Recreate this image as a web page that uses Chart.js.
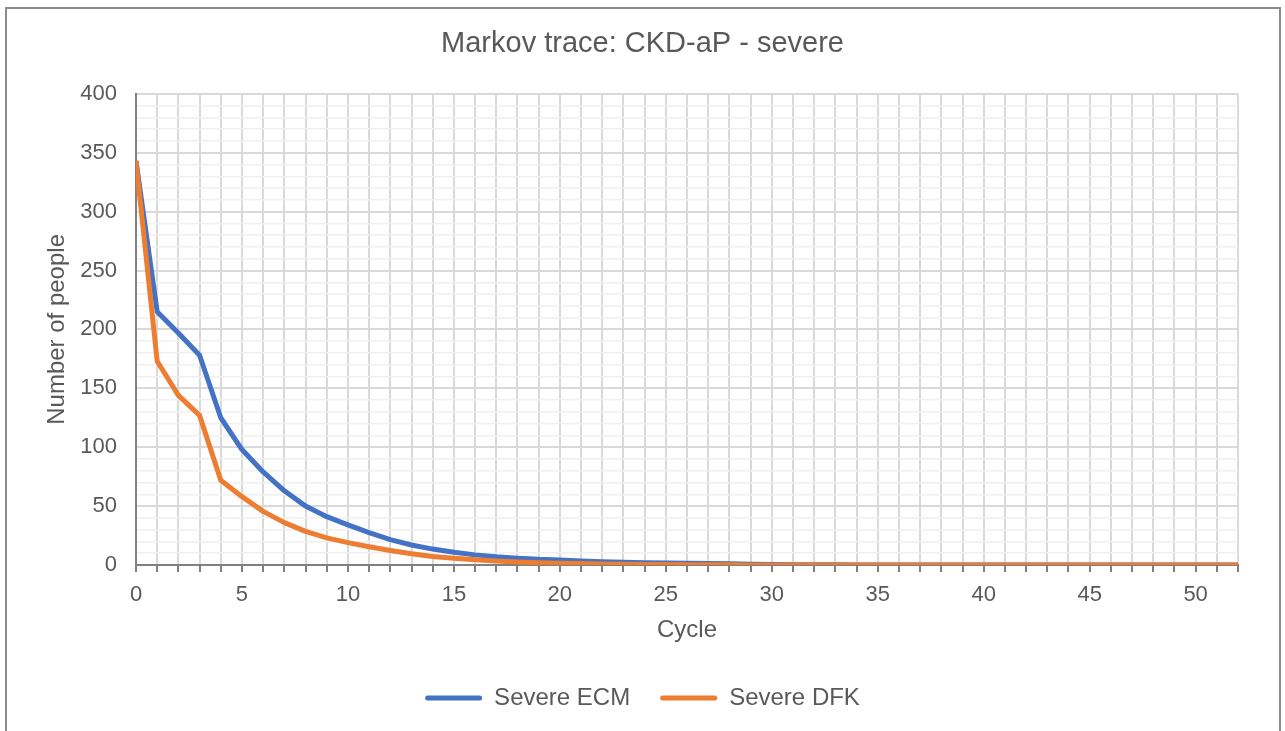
<!DOCTYPE html>
<html>
<head>
<meta charset="utf-8">
<title>Markov trace: CKD-aP - severe</title>
<script src="https://cdn.jsdelivr.net/npm/chart.js@4.4.1/dist/chart.umd.min.js"></script>
<style>
  html, body { margin: 0; padding: 0; background: #fff; overflow: hidden; }
  #wrap { position: relative; width: 1285px; height: 731px; }
  #frame {
    position: absolute; left: 5px; top: 7px; width: 1276px; height: 740px;
    border: 2px solid #8c8c8c; border-bottom: none; box-sizing: border-box;
  }
  canvas { position: absolute; left: 0; top: 0; }
</style>
</head>
<body>
<div id="wrap">
  <div id="frame"></div>
  <canvas id="traceChart" width="1285" height="731"></canvas>
</div>
<script>
// cycles on the x axis
const cycles = [0, 1, 2, 3, 4, 5, 6, 7, 8, 9, 10, 11, 12, 13, 14, 15, 16, 17, 18, 19, 20,
  21, 22, 23, 24, 25, 26, 27, 28, 29, 30, 31, 32, 33, 34, 35, 36, 37, 38, 39, 40,
  41, 42, 43, 44, 45, 46, 47, 48, 49, 50, 51, 52];

// number of people in the severe state
const severeECM = [343, 215, 197, 178, 125, 98, 79, 63, 50, 41, 34, 27.5, 21.5, 17, 13.5, 10.8,
  8.6, 7, 5.8, 4.8, 4.2, 3.4, 2.8, 2.3, 1.9, 1.6, 1.4, 1.2, 1.0, 0.6, 0.4,
  0.3, 0.2, 0.2, 0.1, 0.1, 0.1, 0, 0, 0, 0, 0, 0, 0, 0, 0, 0, 0, 0, 0, 0, 0, 0];
const severeDFK = [343, 173, 144, 127, 72, 58, 45.5, 36, 28.5, 23, 19, 15.5, 12.3, 9.5, 7.3, 5.7,
  4.4, 3.4, 2.6, 2, 1.5, 1.2, 0.9, 0.7, 0.5, 0.4, 0.3, 0.2, 0.2, 0.1, 0.1,
  0.1, 0, 0, 0, 0, 0, 0, 0, 0, 0, 0, 0, 0, 0, 0, 0, 0, 0, 0, 0, 0, 0];

const seriesNames = ["Severe ECM", "Severe DFK"];
const yTickLabels = [0, 50, 100, 150, 200, 250, 300, 350, 400];
const xTickLabels = [0, 5, 10, 15, 20, 25, 30, 35, 40, 45, 50];

const textColor = "#595959";
const blue = "#4472C4";
const orange = "#ED7D31";

Chart.defaults.font.family = "'Liberation Sans', Arial, sans-serif";
Chart.defaults.color = textColor;

function toPoints(values) {
  return cycles.map(function (c, i) { return { x: c, y: values[i] }; });
}

const ctx = document.getElementById("traceChart");
new Chart(ctx, {
  type: "line",
  data: {
    datasets: [
      {
        label: seriesNames[0],
        data: toPoints(severeECM),
        borderColor: blue,
        backgroundColor: blue,
        borderWidth: 5,
        pointRadius: 0,
        tension: 0,
        fill: false,
        borderJoinStyle: "round",
        order: 1,
      },
      {
        label: seriesNames[1],
        data: toPoints(severeDFK),
        borderColor: orange,
        backgroundColor: orange,
        borderWidth: 5,
        pointRadius: 0,
        tension: 0,
        fill: false,
        borderJoinStyle: "round",
        order: 0,
      },
    ],
  },
  options: {
    responsive: false,
    animation: false,
    layout: { padding: { left: 0, right: 0, top: 0, bottom: 11 } },
    scales: {
      x: {
        type: "linear",
        min: 0,
        max: 52,
        afterFit: function (scale) { scale.height = 91; },
        ticks: {
          stepSize: 1,
          autoSkip: false,
          maxRotation: 0,
          padding: 10,
          font: { size: 22 },
          color: textColor,
          callback: function (v) { return xTickLabels.includes(v) ? String(v) : ""; },
        },
        grid: {
          color: "#d9d9d9",
          lineWidth: 2,
          drawTicks: true,
          tickLength: 7,
          tickColor: "#808080",
          tickWidth: 2,
        },
        border: { color: "#808080", width: 2 },
        title: {
          display: true,
          text: "Cycle",
          color: textColor,
          font: { size: 24 },
          padding: { top: 0, bottom: 11 },
        },
      },
      y: {
        min: 0,
        max: 400,
        afterFit: function (scale) { scale.width = 136; },
        ticks: {
          stepSize: 10,
          autoSkip: false,
          padding: 19,
          font: { size: 22 },
          color: textColor,
          callback: function (v) { return yTickLabels.includes(v) ? String(v) : ""; },
        },
        grid: {
          drawTicks: false,
          lineWidth: function (c) { return c.tick && c.tick.value % 50 === 0 ? 2 : 1.5; },
          color: function (c) { return c.tick && c.tick.value % 50 === 0 ? "#d9d9d9" : "#f0f0f0"; },
        },
        border: { color: "#808080", width: 2 },
        title: {
          display: true,
          text: "Number of people",
          color: textColor,
          font: { size: 24 },
          padding: { top: 43, bottom: 0 },
        },
      },
      // empty right-hand box so the plot stops where the reference does
      spacer: {
        position: "right",
        display: true,
        afterFit: function (scale) { scale.width = 47; },
        ticks: { display: false },
        grid: { display: false },
        border: { display: false },
      },
    },
    plugins: {
      title: {
        display: true,
        text: "Markov trace: CKD-aP - severe",
        color: textColor,
        font: { size: 29, weight: "normal" },
        padding: { top: 27, bottom: 32 },
      },
      legend: {
        position: "bottom",
        labels: {
          boxWidth: 57,
          boxHeight: 5,
          padding: 30,
          color: textColor,
          font: { size: 24 },
          useBorderRadius: true,
          borderRadius: 2.5,
          sort: function (a, b) { return a.datasetIndex - b.datasetIndex; },
          generateLabels: function (chart) {
            const items = Chart.defaults.plugins.legend.labels.generateLabels(chart);
            return items.map(function (it) {
              it.lineWidth = 0;
              it.fillStyle = it.strokeStyle;
              return it;
            });
          },
        },
      },
      tooltip: { enabled: false },
    },
  },
});
</script>
</body>
</html>
